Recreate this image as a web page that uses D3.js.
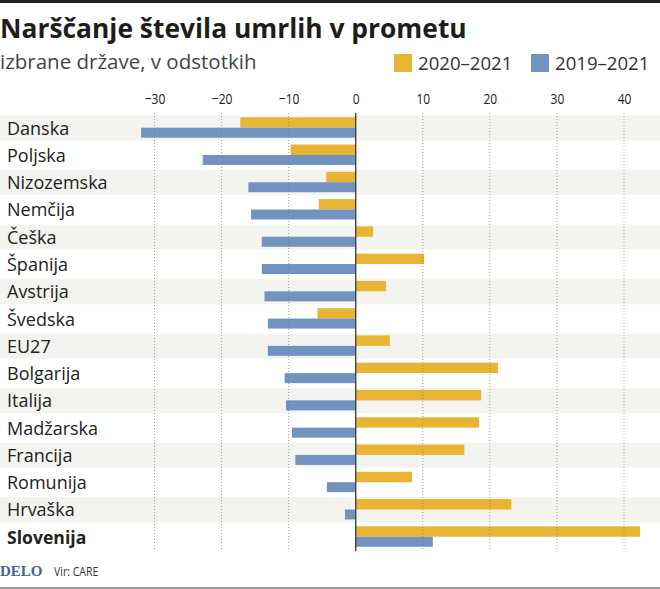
<!DOCTYPE html>
<html>
<head>
<meta charset="utf-8">
<script src="https://cdn.jsdelivr.net/npm/d3@7"></script>
<style>
  html, body { margin: 0; background: #fff; }
  svg { display: block; }
  text { font-family: "Open Sans", sans-serif; fill: #222; }
</style>
</head>
<body>
<div class="canvas"></div>
<script>
const countries = ['Danska', 'Poljska', 'Nizozemska', 'Nemčija', 'Češka', 'Španija', 'Avstrija', 'Švedska',
  'EU27', 'Bolgarija', 'Italija', 'Madžarska', 'Francija', 'Romunija', 'Hrvaška', 'Slovenija'];
const change2020 = [-17.2, -9.7, -4.4, -5.5, 2.6, 10.2, 4.5, -5.7, 5.1, 21.2, 18.7, 18.4, 16.2, 8.4, 23.2, 42.4];
const change2019 = [-32, -22.8, -16, -15.6, -14, -14, -13.6, -13.1, -13.1, -10.6, -10.4, -9.5, -9, -4.3, -1.6, 11.5];
const tickValues = [-30, -20, -10, 0, 10, 20, 30, 40];
const legendLabels = ['2020–2021', '2019–2021'];

const width = 660;
const height = 589;
const gold = '#e7b434';
const blue = '#7292bf';

const svg = d3.select('.canvas')
  .append('svg')
  .attr('width', width)
  .attr('height', height);

const x = d3.scaleLinear().domain([-30, 40]).range([154.5, 624]);
const y = d3.scaleBand().domain(countries).range([115, 551.3]).paddingInner(0).paddingOuter(0);

// frame lines
svg.append('rect').attr('width', width).attr('height', 3).attr('fill', '#222');
svg.append('rect').attr('y', 587).attr('width', width).attr('height', 2).attr('fill', '#999');

svg.append('text').text('Narščanje števila umrlih v prometu')
  .attr('x', 0).attr('y', 38)
  .style('font-size', '26.4px').style('font-weight', 700).style('fill', '#1d1d1b');

svg.append('text').text('izbrane države, v odstotkih')
  .attr('x', 0).attr('y', 69)
  .style('font-size', '20.5px').style('fill', '#444');

// legend
const legend = svg.selectAll('.legend').data(legendLabels).enter().append('g')
  .attr('class', 'legend')
  .attr('transform', (d, i) => `translate(${[394, 531][i]}, 54)`);
legend.append('rect').attr('width', 18).attr('height', 18).attr('fill', (d, i) => [gold, blue][i]);
legend.append('text').text(d => d)
  .attr('x', 24).attr('y', 15.5)
  .style('font-size', '18.6px').style('fill', '#333');

// stripes
svg.selectAll('.band').data(countries.filter((d, i) => i % 2 === 0)).enter().append('rect')
  .attr('class', 'band')
  .attr('x', 0).attr('width', width)
  .attr('y', d => y(d) + 0.5).attr('height', 25)
  .attr('fill', '#f3f3f0');

// tick labels, squeezed because no condensed font is installed
const axis = d3.axisTop(x).tickValues(tickValues).tickSize(0).tickFormat(d => String(d).replace('-', '−'));
const axisGroup = svg.append('g').attr('transform', 'translate(0, 107)').call(axis);
axisGroup.select('.domain').remove();
axisGroup.selectAll('text')
  .attr('transform', 'scale(0.8, 1)')
  .style('font-size', '15px')
  .style('fill', '#222');

// bars
const bars = (values, color, offset, barHeight) => svg.append('g').selectAll('rect').data(values).enter().append('rect')
  .attr('x', d => x(Math.min(0, d)))
  .attr('width', d => Math.abs(x(d) - x(0)))
  .attr('y', (d, i) => y(countries[i]) + offset)
  .attr('height', barHeight)
  .attr('fill', color);
bars(change2020, gold, 2.3, 10.4);
bars(change2019, blue, 12.7, 10);

// grid sits over the bars
svg.selectAll('.grid').data(tickValues.filter(d => d !== 0)).enter().append('line')
  .attr('class', 'grid')
  .attr('x1', d => x(d)).attr('x2', d => x(d))
  .attr('y1', 113).attr('y2', 551)
  .attr('stroke', '#777')
  .attr('stroke-opacity', 0.7)
  .attr('stroke-dasharray', '1 2');

svg.append('line')
  .attr('x1', x(0)).attr('x2', x(0))
  .attr('y1', 113).attr('y2', 551)
  .attr('stroke', '#444')
  .attr('stroke-width', 1.4);

// country names
svg.selectAll('.name').data(countries).enter().append('text')
  .attr('class', 'name')
  .text(d => d)
  .attr('x', 7)
  .attr('y', d => y(d) + y.bandwidth() / 2 + 6)
  .style('font-size', d => d === 'Slovenija' ? '17.6px' : '18px')
  .style('font-weight', d => d === 'Slovenija' ? 700 : 400);

// footer
svg.append('text').text('DELO')
  .attr('x', 0).attr('y', 576)
  .style('font-family', '"Liberation Serif", serif')
  .style('font-size', '15px').style('font-weight', 700).style('fill', '#3f6593');
svg.append('text').text('Vir: CARE')
  .attr('transform', 'translate(54, 576) scale(0.78, 1)')
  .style('font-size', '13.5px').style('fill', '#333');
</script>
</body>
</html>
